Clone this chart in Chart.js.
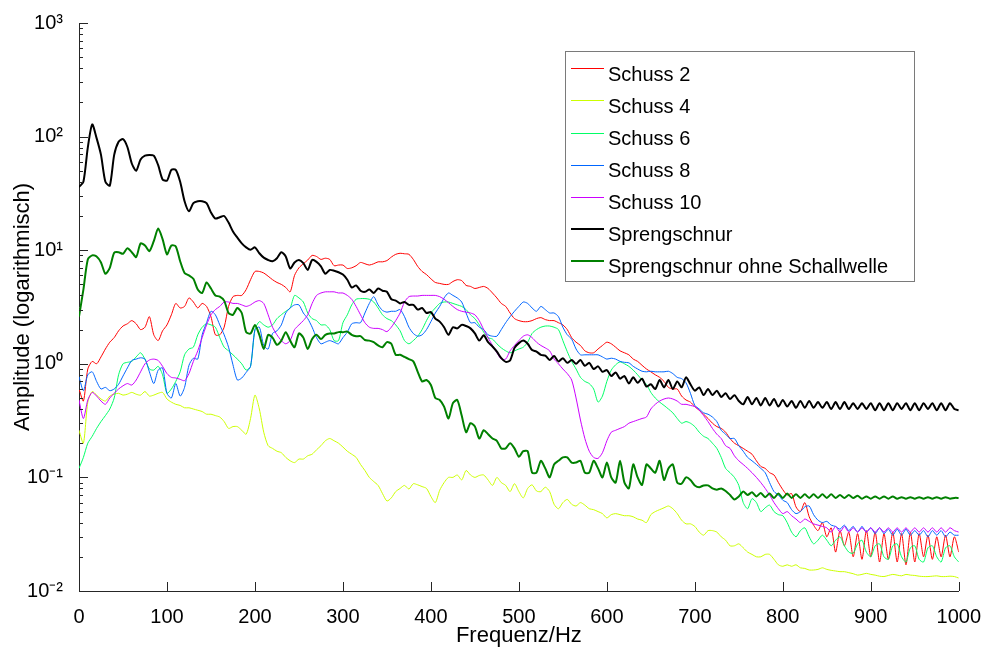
<!DOCTYPE html>
<html>
<head>
<meta charset="utf-8">
<script src="https://cdn.jsdelivr.net/npm/chart.js@4/dist/chart.umd.min.js"></script>
<style>
  html, body { margin: 0; padding: 0; background: #ffffff; }
  #wrap { width: 987px; height: 654px; }
</style>
</head>
<body>
<div id="wrap"><canvas id="c" width="987" height="654"></canvas></div>
<script>
// ---------- data (5 Hz sampling grid) ----------
const freqHz = Array.from({ length: 201 }, (_, i) => i * 5);

const schuss2 = [
  0.6, 0.47, 0.9, 1.05, 1.0, 1.15, 1.35, 1.55, 1.7, 1.95,
  2.15, 2.25, 2.4, 2.25, 2.0, 2.1, 2.6, 1.8, 1.6, 1.95,
  2.2, 2.7, 3.4, 3.1, 3.2, 3.8, 3.5, 3.1, 3.4, 3.2,
  2.6, 1.8, 1.8, 2.1, 3.2, 3.9, 4.0, 4.0, 4.5, 5.5,
  6.5, 6.5, 6.3, 5.9, 5.5, 5.2, 5.0, 4.7, 4.3, 6.0,
  7.0, 7.6, 8.2, 9.0, 8.8, 8.3, 8.5, 8.3, 7.3, 7.4,
  7.4, 6.9, 7.0, 7.3, 7.8, 7.6, 7.4, 7.6, 7.9, 7.9,
  8.1, 8.7, 9.2, 9.4, 9.3, 9.2, 8.3, 7.2, 6.5, 6.1,
  5.6, 5.2, 5.1, 5.0, 5.0, 5.3, 5.5, 5.4, 4.9, 4.8,
  4.6, 4.7, 4.8, 4.6, 4.2, 3.8, 3.4, 3.2, 2.8, 2.5,
  2.4, 2.35, 2.35, 2.4, 2.5, 2.55, 2.45, 2.4, 2.4, 2.3,
  2.2, 2.0, 1.7, 1.55, 1.45, 1.3, 1.25, 1.25, 1.35, 1.45,
  1.55, 1.5, 1.4, 1.3, 1.25, 1.2, 1.1, 1.05, 0.97, 0.9,
  0.85, 0.8, 0.76, 0.7, 0.62, 0.6, 0.6, 0.52, 0.48, 0.46,
  0.42, 0.39, 0.36, 0.33, 0.3, 0.28, 0.27, 0.25, 0.22, 0.2,
  0.19, 0.18, 0.17, 0.16, 0.14, 0.125, 0.12, 0.11, 0.105, 0.09,
  0.078, 0.07, 0.072, 0.055, 0.05, 0.06, 0.045, 0.038, 0.034, 0.04,
  0.03, 0.036, 0.022, 0.034, 0.025, 0.033, 0.02, 0.032, 0.019, 0.034,
  0.02, 0.033, 0.018, 0.032, 0.019, 0.033, 0.018, 0.032, 0.017, 0.033,
  0.018, 0.032, 0.02, 0.031, 0.019, 0.03, 0.02, 0.031, 0.02, 0.03,
  0.022
];

const schuss4 = [
  0.26, 0.2, 0.46, 0.57, 0.53, 0.49, 0.47, 0.52, 0.54, 0.55,
  0.53, 0.54, 0.56, 0.54, 0.53, 0.57, 0.52, 0.53, 0.55, 0.56,
  0.49, 0.46, 0.44, 0.43, 0.41, 0.41, 0.40, 0.39, 0.38, 0.36,
  0.36, 0.35, 0.34, 0.31, 0.27, 0.28, 0.28, 0.26, 0.24, 0.33,
  0.53, 0.4, 0.25, 0.19, 0.18, 0.17, 0.165, 0.15, 0.14, 0.135,
  0.145, 0.145, 0.155, 0.16, 0.175, 0.19, 0.21, 0.22, 0.21, 0.2,
  0.185, 0.17, 0.16, 0.15, 0.13, 0.115, 0.1, 0.092, 0.085, 0.072,
  0.062, 0.066, 0.075, 0.08, 0.085, 0.079, 0.088, 0.086, 0.083, 0.08,
  0.068, 0.06, 0.077, 0.09, 0.1, 0.1, 0.105, 0.095, 0.115, 0.105,
  0.1, 0.104, 0.105, 0.095, 0.085, 0.1, 0.09, 0.085, 0.075, 0.088,
  0.075, 0.066, 0.08, 0.086, 0.076, 0.075, 0.082, 0.075, 0.058, 0.053,
  0.06, 0.064, 0.058, 0.056, 0.06, 0.057, 0.053, 0.052, 0.05, 0.048,
  0.044, 0.047, 0.048, 0.047, 0.046, 0.046, 0.045, 0.043, 0.042, 0.04,
  0.047, 0.05, 0.052, 0.054, 0.056, 0.053, 0.048, 0.042, 0.039, 0.039,
  0.037, 0.033, 0.031, 0.034, 0.034, 0.033, 0.03, 0.028, 0.025, 0.025,
  0.026, 0.024, 0.022, 0.021, 0.02, 0.02, 0.021, 0.021, 0.019, 0.017,
  0.0165, 0.017, 0.0165, 0.017, 0.016, 0.0158, 0.0153, 0.0153, 0.0155, 0.016,
  0.0155, 0.0152, 0.015, 0.0148, 0.0148, 0.0145, 0.0142, 0.0138, 0.014, 0.0143,
  0.014, 0.0138, 0.0135, 0.0134, 0.0137, 0.014, 0.0138, 0.0136, 0.014, 0.0138,
  0.0137, 0.0135, 0.0134, 0.0134, 0.0135, 0.0136, 0.0134, 0.0134, 0.0135, 0.0134,
  0.013
];

const schuss6 = [
  0.12, 0.15, 0.2, 0.23, 0.27, 0.31, 0.35, 0.4, 0.5, 0.8,
  1.0, 1.03, 1.05, 1.15, 1.25, 1.1, 0.9, 0.88, 0.95, 0.8,
  0.55, 0.6, 0.7, 0.85, 1.2, 1.35, 1.4, 1.8, 2.1, 2.25,
  2.2, 2.1, 1.7, 1.4, 1.3, 1.2, 1.1, 1.0, 0.88, 0.95,
  2.0, 2.35, 2.2, 2.1, 2.2, 2.5, 2.7, 2.9, 3.1, 4.0,
  3.8, 3.5, 2.8, 2.5, 2.4, 2.2, 2.2, 2.0, 1.6, 1.6,
  2.3, 2.7, 3.3, 3.7, 3.75, 3.75, 3.7, 3.5, 3.1, 2.7,
  2.5, 2.4, 2.2, 1.95, 1.6, 1.5, 1.6, 1.75, 2.0, 2.4,
  2.8, 3.1, 3.4, 3.5, 3.5, 3.4, 3.3, 3.2, 3.0, 2.7,
  2.5, 2.2, 1.9, 1.7, 1.65, 1.5, 1.38, 1.3, 1.25, 1.3,
  1.35, 1.4, 1.55, 1.85, 2.0, 2.1, 2.15, 2.15, 2.1, 2.0,
  1.6, 1.28, 1.05, 0.9, 0.76, 0.7, 0.67, 0.6, 0.46, 0.52,
  0.7, 0.88, 0.98, 1.04, 1.0, 0.95, 0.88, 0.8, 0.72, 0.66,
  0.56, 0.5, 0.46, 0.43, 0.4, 0.37, 0.33, 0.3, 0.31, 0.3,
  0.28, 0.25, 0.23, 0.22, 0.2, 0.18, 0.15, 0.12, 0.11, 0.1,
  0.085, 0.06, 0.053, 0.065, 0.06, 0.05, 0.054, 0.057, 0.05, 0.047,
  0.046, 0.04, 0.033, 0.03, 0.034, 0.036, 0.03, 0.026, 0.028, 0.031,
  0.028, 0.025, 0.028, 0.03, 0.025, 0.022, 0.0215, 0.026, 0.028, 0.022,
  0.02, 0.025, 0.026, 0.02, 0.019, 0.025, 0.026, 0.02, 0.018, 0.024,
  0.025, 0.019, 0.018, 0.024, 0.025, 0.02, 0.018, 0.024, 0.025, 0.02,
  0.018
];

const schuss8 = [
  0.77, 0.58, 0.8, 0.85, 0.7, 0.6, 0.62, 0.58, 0.6, 0.66,
  0.78, 0.92, 1.07, 1.1, 1.13, 1.1, 0.85, 0.67, 0.88, 0.92,
  0.55, 0.5, 0.67, 0.52, 0.62, 0.97, 1.12, 1.1, 1.8, 2.3,
  2.9, 2.7, 2.2, 1.8, 1.4, 0.98, 0.72, 0.75, 0.84, 0.95,
  2.0, 2.1, 1.45, 1.35, 1.85, 1.95, 2.2, 2.8, 3.1, 3.3,
  3.3, 2.8, 2.5, 2.1, 1.7, 1.5, 1.55, 1.6, 1.55, 1.5,
  1.7, 1.9, 2.25, 2.3, 2.3, 2.8, 3.4, 3.9, 3.3, 2.95,
  2.85, 2.9, 2.9, 3.0, 2.6, 2.1, 1.85, 1.75, 1.8, 2.0,
  2.35, 2.8, 3.2, 3.8, 4.2, 4.0, 3.8, 3.5, 2.8, 2.3,
  2.3, 2.1, 2.0, 1.8, 1.75, 1.75, 2.0, 2.3, 2.6, 2.9,
  3.2, 3.5, 3.4, 3.1, 2.9, 3.2, 3.0, 2.8, 2.8, 2.6,
  2.1, 1.8, 1.65, 1.35, 1.2, 1.2, 1.2, 1.2, 1.2, 1.15,
  1.1, 1.12, 1.1, 1.05, 1.03, 1.02, 0.95, 0.9, 0.86, 0.85,
  0.86, 0.85, 0.85, 0.85, 0.86, 0.82, 0.76, 0.74, 0.68, 0.55,
  0.43, 0.4, 0.37, 0.36, 0.34, 0.31, 0.26, 0.24, 0.22, 0.22,
  0.19, 0.17, 0.15, 0.14, 0.13, 0.12, 0.11, 0.09, 0.075, 0.07,
  0.063, 0.06, 0.052, 0.048, 0.05, 0.055, 0.056, 0.047, 0.042, 0.04,
  0.041, 0.038, 0.037, 0.035, 0.038, 0.034, 0.037, 0.033, 0.037, 0.033,
  0.036, 0.032, 0.036, 0.032, 0.035, 0.031, 0.035, 0.031, 0.035, 0.031,
  0.034, 0.031, 0.034, 0.03, 0.034, 0.031, 0.034, 0.03, 0.033, 0.031,
  0.031
];

const schuss10 = [
  0.48, 0.33, 0.48, 0.56, 0.52, 0.47, 0.44, 0.5, 0.55, 0.6,
  0.64, 0.67, 0.65, 0.72, 0.85, 1.0, 1.08, 1.1, 1.07, 0.95,
  0.82, 0.76, 0.75, 0.73, 0.71, 0.82, 1.05, 1.3, 1.7, 2.2,
  2.7, 3.0, 3.2, 3.5, 3.5, 3.4, 3.4, 3.3, 3.2, 3.3,
  3.5, 3.6, 3.4, 2.7, 2.1, 1.8, 1.6, 1.5, 1.6, 2.0,
  2.2, 2.4, 2.7, 3.4, 4.0, 4.2, 4.3, 4.3, 4.3, 4.2,
  4.2, 4.0, 3.7, 3.2, 2.7, 2.3, 2.1, 2.05, 2.05, 2.0,
  1.92, 2.1, 2.4, 2.8, 3.5, 3.9, 3.95, 3.95, 4.0, 4.0,
  4.0, 4.0, 3.9, 3.7, 3.45, 3.2, 3.0, 2.9, 2.85, 2.8,
  2.7, 2.4, 2.0, 1.7, 1.45, 1.25, 1.1, 1.1, 1.3, 1.45,
  1.6, 1.75, 1.8, 1.7, 1.55, 1.45, 1.38, 1.3, 1.1, 1.0,
  0.9, 0.82, 0.72, 0.5, 0.32, 0.22, 0.17, 0.15, 0.147, 0.165,
  0.21, 0.25, 0.26, 0.27, 0.28, 0.3, 0.31, 0.32, 0.33, 0.34,
  0.4, 0.44, 0.47, 0.49, 0.5, 0.49, 0.47, 0.44, 0.44, 0.43,
  0.42, 0.39, 0.35, 0.31, 0.27, 0.24, 0.22, 0.19, 0.18, 0.155,
  0.14, 0.13, 0.12, 0.11, 0.1, 0.09, 0.08, 0.07, 0.06, 0.053,
  0.048, 0.05, 0.046, 0.043, 0.04, 0.043, 0.041, 0.039, 0.038, 0.037,
  0.036, 0.033, 0.037, 0.033, 0.037, 0.033, 0.036, 0.033, 0.036, 0.033,
  0.036, 0.033, 0.036, 0.033, 0.036, 0.033, 0.036, 0.033, 0.036, 0.033,
  0.036, 0.033, 0.036, 0.033, 0.036, 0.033, 0.036, 0.033, 0.036, 0.034,
  0.033
];

const sprengschnur = [
  36, 40, 80, 128, 97, 69, 40, 37, 69, 90,
  95, 81, 58, 50, 63, 68, 69, 68, 56, 42,
  41, 51, 51, 40, 27, 22, 26, 27, 27, 26,
  21.5, 19, 19.5, 20, 17.5, 14.6, 12.9, 11.5, 10.6, 10.1,
  10.6, 9.4, 8.6, 8.2, 8.0, 8.5, 9.6, 8.8, 6.9, 7.8,
  8.2, 7.7, 6.7, 8.2, 7.9, 7.2, 6.2, 6.7, 6.6, 6.4,
  6.1, 5.5, 4.7, 4.9, 4.4, 4.3, 4.5, 4.2, 4.6, 4.4,
  4.3, 3.7, 3.6, 3.4, 3.5, 3.3, 3.3, 3.0, 3.1, 2.8,
  2.85, 2.5, 2.35, 2.1, 1.8, 2.1, 2.05, 2.2, 2.15, 2.05,
  1.85, 1.6, 1.78, 1.55, 1.42, 1.28, 1.12, 1.04, 1.07, 1.38,
  1.52, 1.6, 1.5, 1.32, 1.28, 1.2, 1.18, 1.08, 1.17, 1.05,
  1.12, 1.02, 1.08, 1.0, 1.08, 0.96, 1.02, 0.9, 0.95, 0.85,
  0.88, 0.78, 0.84, 0.74, 0.78, 0.67, 0.76, 0.68, 0.74, 0.63,
  0.66, 0.6, 0.72, 0.62, 0.72, 0.6, 0.7, 0.62, 0.76, 0.66,
  0.58, 0.62, 0.53, 0.6, 0.53, 0.58, 0.51, 0.55, 0.49, 0.53,
  0.47, 0.44, 0.51, 0.44, 0.5, 0.43, 0.5, 0.43, 0.49, 0.42,
  0.48, 0.42, 0.47, 0.41, 0.47, 0.41, 0.47, 0.41, 0.46, 0.41,
  0.46, 0.4, 0.46, 0.4, 0.46, 0.4, 0.45, 0.4, 0.45, 0.4,
  0.45, 0.39, 0.45, 0.39, 0.45, 0.39, 0.45, 0.4, 0.45, 0.39,
  0.45, 0.39, 0.45, 0.4, 0.45, 0.39, 0.45, 0.39, 0.45, 0.4,
  0.39
];

const sprengschnurOhne = [
  2.6, 4.5, 8.3, 9.0, 8.8, 7.8, 6.2, 7.0, 9.5, 9.6,
  9.3, 10.4, 9.6, 8.7, 11.5, 11.0, 9.8, 12.0, 15.5, 12.5,
  9.2, 11.0, 10.8, 8.0, 6.3, 6.0, 5.6, 4.5, 4.2, 5.2,
  4.6, 4.0, 3.9, 3.6, 2.8, 2.7, 3.1, 2.8, 1.9, 1.85,
  2.2, 1.8, 1.35, 1.8, 1.7, 1.47, 1.6, 1.9, 1.6, 1.4,
  1.85, 1.7, 1.35, 1.65, 1.8, 1.65, 1.8, 1.85, 1.85, 1.9,
  1.9, 1.92, 1.8, 1.75, 1.75, 1.62, 1.6, 1.55, 1.45, 1.4,
  1.55, 1.5, 1.2, 1.2, 1.15, 1.1, 1.05, 0.85, 0.7, 0.72,
  0.65, 0.5, 0.48, 0.42, 0.33, 0.45, 0.48, 0.35, 0.25, 0.3,
  0.28, 0.22, 0.26, 0.24, 0.22, 0.21, 0.18, 0.18, 0.2, 0.18,
  0.152, 0.17, 0.17, 0.11, 0.11, 0.14, 0.12, 0.1, 0.13, 0.14,
  0.15, 0.15, 0.135, 0.135, 0.14, 0.11, 0.11, 0.14, 0.12, 0.1,
  0.135, 0.1, 0.09, 0.14, 0.09, 0.08, 0.13, 0.1, 0.086, 0.13,
  0.12, 0.11, 0.14, 0.095, 0.12, 0.13, 0.09, 0.088, 0.1, 0.095,
  0.085, 0.082, 0.085, 0.085, 0.08, 0.078, 0.08, 0.076, 0.07, 0.064,
  0.068, 0.075, 0.07, 0.074, 0.068, 0.073, 0.067, 0.072, 0.066, 0.072,
  0.066, 0.072, 0.066, 0.071, 0.066, 0.071, 0.066, 0.071, 0.066, 0.071,
  0.066, 0.071, 0.066, 0.07, 0.066, 0.07, 0.066, 0.069, 0.065, 0.068,
  0.065, 0.068, 0.065, 0.068, 0.065, 0.068, 0.065, 0.067, 0.065, 0.067,
  0.065, 0.067, 0.065, 0.067, 0.065, 0.067, 0.065, 0.067, 0.065, 0.066,
  0.066
];

const seriesLabels = ['Schuss 2', 'Schuss 4', 'Schuss 6', 'Schuss 8', 'Schuss 10',
                      'Sprengschnur', 'Sprengschnur ohne Schallwelle'];
const seriesValues = [schuss2, schuss4, schuss6, schuss8, schuss10, sprengschnur, sprengschnurOhne];
const seriesColors = ['#ff0000', '#ccff00', '#00ff66', '#0066ff', '#cc00ff', '#000000', '#008000'];
const seriesWidths = [1, 1, 1, 1, 1, 2, 2];

const xTickValues = [0, 100, 200, 300, 400, 500, 600, 700, 800, 900, 1000];
const xTickLabels = ['0', '100', '200', '300', '400', '500', '600', '700', '800', '900', '1000'];
const yTickValues = [0.01, 0.1, 1, 10, 100, 1000];
const yTickLabels = ['10\u207B\u00B2', '10\u207B\u00B9', '10\u2070', '10\u00B9', '10\u00B2', '10\u00B3'];
const yMinorMultipliers = [2, 3, 4, 5, 6, 7, 8, 9];

// ---------- chart ----------
const FONT = "'Liberation Sans', Arial, Helvetica, sans-serif";
Chart.defaults.font.family = FONT;
Chart.defaults.color = '#000000';

const axisColor = '#262626';

const innerTicks = {
  id: 'innerTicks',
  afterDraw(chart) {
    const { ctx, chartArea: a, scales: { x, y } } = chart;
    ctx.save();
    ctx.strokeStyle = axisColor;
    ctx.lineWidth = 1;
    ctx.beginPath();
    xTickValues.forEach(v => {
      const px = Math.round(x.getPixelForValue(v)) + 0.5;
      ctx.moveTo(px, a.bottom);
      ctx.lineTo(px, a.bottom - 9);
    });
    yTickValues.forEach((v, k) => {
      const py = Math.round(y.getPixelForValue(v)) + 0.5;
      ctx.moveTo(a.left, py);
      ctx.lineTo(a.left + 9, py);
      if (k < yTickValues.length - 1) {
        yMinorMultipliers.forEach(m => {
          const pm = Math.round(y.getPixelForValue(v * m)) + 0.5;
          ctx.moveTo(a.left, pm);
          ctx.lineTo(a.left + 4, pm);
        });
      }
    });
    ctx.stroke();
    ctx.restore();
  }
};

const boxLegend = {
  id: 'boxLegend',
  afterDraw(chart) {
    const ctx = chart.ctx;
    const L = 565, T = 51, W = 349, H = 230;
    ctx.save();
    ctx.fillStyle = '#ffffff';
    ctx.fillRect(L, T, W, H);
    ctx.strokeStyle = '#7a7a7a';
    ctx.lineWidth = 1;
    ctx.strokeRect(L + 0.5, T + 0.5, W, H);
    ctx.font = '20px ' + FONT;
    ctx.textBaseline = 'alphabetic';
    ctx.textAlign = 'left';
    chart.data.datasets.forEach((ds, i) => {
      const base = 80.7 + i * 32.1;
      const ly = Math.round(base - 12.4) + (ds.borderWidth % 2 ? 0.5 : 0);
      ctx.strokeStyle = ds.borderColor;
      ctx.lineWidth = ds.borderWidth;
      ctx.beginPath();
      ctx.moveTo(571, ly);
      ctx.lineTo(604, ly);
      ctx.stroke();
      ctx.fillStyle = '#000000';
      ctx.fillText(ds.label, 608, base);
    });
    ctx.restore();
  }
};

const datasets = seriesLabels.map((label, i) => ({
  label,
  data: freqHz.map((f, k) => ({ x: f, y: seriesValues[i][k] })),
  borderColor: seriesColors[i],
  backgroundColor: seriesColors[i],
  borderWidth: seriesWidths[i],
  pointRadius: 0,
  tension: 0.25,
  fill: false,
  order: seriesLabels.length - 1 - i
}));

new Chart(document.getElementById('c'), {
  type: 'line',
  data: { datasets },
  options: {
    responsive: false,
    animation: false,
    devicePixelRatio: 1,
    layout: { padding: { top: 23, right: 26, left: 0, bottom: 0 } },
    plugins: {
      legend: { display: false },
      tooltip: { enabled: false },
      title: { display: false }
    },
    scales: {
      x: {
        type: 'linear',
        min: 0,
        max: 1000,
        afterBuildTicks: (s) => { s.ticks = xTickValues.map(v => ({ value: v })); },
        afterFit: (s) => { s.height = 63; },
        grid: { display: false },
        border: { display: true, color: axisColor, width: 1 },
        ticks: {
          font: { size: 20 }, color: '#000', padding: 6, maxRotation: 0, autoSkip: false,
          callback: (v) => {
            const k = xTickValues.indexOf(v);
            return k >= 0 ? xTickLabels[k] : '';
          }
        },
        title: { display: true, text: 'Frequenz/Hz', color: '#000', font: { size: 22 }, padding: { top: 0, bottom: 5 } }
      },
      y: {
        type: 'logarithmic',
        min: 0.01,
        max: 1000,
        afterBuildTicks: (s) => { s.ticks = yTickValues.map(v => ({ value: v, major: true })); },
        afterFit: (s) => { s.width = 79; },
        grid: { display: false },
        border: { display: true, color: axisColor, width: 1 },
        ticks: {
          font: { size: 20 },
          color: '#000',
          padding: 8,
          autoSkip: false,
          callback: (v) => {
            const k = yTickValues.findIndex(t => Math.abs(Math.log10(t) - Math.log10(v)) < 1e-6);
            return k >= 0 ? yTickLabels[k] : '';
          }
        },
        title: { display: true, text: 'Amplitude (logarithmisch)', color: '#000', font: { size: 22 }, padding: { top: 10, bottom: 0 } }
      }
    }
  },
  plugins: [innerTicks, boxLegend]
});
</script>
</body>
</html>
